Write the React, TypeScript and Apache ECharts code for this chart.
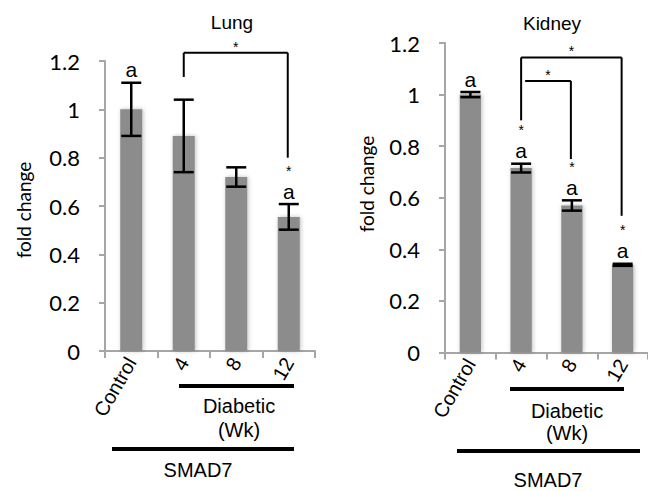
import React, { useEffect, useRef } from "react";
import * as echarts from "echarts";

const categories = ["Control", "4", "8", "12"];
const yTicks = [0, 0.2, 0.4, 0.6, 0.8, 1, 1.2];

const lungValues = [1.0, 0.89, 0.72, 0.555];
const lungErrors = [0.11, 0.15, 0.04, 0.053];
const lungLetters = ["a", "", "", "a"];
const lungStars = [false, false, false, true];
// [fromCat, toCat, topValue, leftBottomValue (null = none), rightBottomValue]
const lungBrackets = [[1, 3, 1.234, 1.134, 0.8]];

const kidneyValues = [1.0, 0.715, 0.57, 0.34];
const kidneyErrors = [0.01, 0.017, 0.02, 0.004];
const kidneyLetters = ["a", "a", "a", "a"];
const kidneyStars = [false, true, true, true];
const kidneyBrackets = [
  [1, 3, 1.144, 0.9, 0.53],
  [1, 2, 1.053, null, 0.75],
];

const GRAY_AXIS = "#a6a6a6";
const BAR = "#8c8c8c";
const NUM_FONT = "Lato";
const TXT_FONT = "Liberation Sans, Arial, sans-serif";

function errorSeries(idx: number, values: number[], errors: number[]) {
  return {
    type: "custom",
    xAxisIndex: idx,
    yAxisIndex: idx,
    z: 5,
    data: values.map((v, i) => [i, v, errors[i]]),
    renderItem: (_p: any, api: any) => {
      const x = api.value(0);
      const v = api.value(1);
      const e = api.value(2);
      const t = api.coord([x, v + e]);
      const b = api.coord([x, v - e]);
      const hw = 10;
      const st = { stroke: "#000", lineWidth: 2.5 };
      return {
        type: "group",
        children: [
          { type: "line", shape: { x1: t[0], y1: t[1], x2: b[0], y2: b[1] }, style: st },
          { type: "line", shape: { x1: t[0] - hw, y1: t[1], x2: t[0] + hw, y2: t[1] }, style: st },
          { type: "line", shape: { x1: b[0] - hw, y1: b[1], x2: b[0] + hw, y2: b[1] }, style: st },
        ],
      };
    },
  };
}

function letterSeries(idx: number, values: number[], errors: number[], letters: string[], stars: boolean[]) {
  return {
    type: "custom",
    xAxisIndex: idx,
    yAxisIndex: idx,
    z: 6,
    data: values.map((v, i) => [i, v + errors[i], i]),
    renderItem: (_p: any, api: any) => {
      const i = api.value(2);
      const p = api.coord([api.value(0), api.value(1)]);
      const children: any[] = [];
      if (letters[i]) {
        children.push({
          type: "text",
          x: p[0],
          y: p[1] - 13,
          style: {
            text: letters[i],
            fontSize: 21,
            fontFamily: TXT_FONT,
            fill: "#000",
            align: "center",
            verticalAlign: "middle",
          },
        });
      }
      if (stars[i]) {
        children.push({
          type: "text",
          x: p[0],
          y: p[1] - 33.5,
          style: {
            text: "*",
            fontSize: 14,
            fontFamily: TXT_FONT,
            fill: "#000",
            align: "center",
            verticalAlign: "middle",
          },
        });
      }
      return { type: "group", children };
    },
  };
}

function bracketSeries(idx: number, brackets: any[]) {
  return {
    type: "custom",
    xAxisIndex: idx,
    yAxisIndex: idx,
    z: 6,
    clip: false,
    data: brackets.map((b, i) => [b[0], b[1], b[2], b[3] === null ? -1 : b[3], b[4], i]),
    renderItem: (_p: any, api: any) => {
      const c1 = api.value(0);
      const c2 = api.value(1);
      const top = api.value(2);
      const lb = api.value(3);
      const rb = api.value(4);
      const hasLeft = lb >= 0;
      const dx = hasLeft ? 0 : 4;
      const pL = api.coord([c1, top]);
      const pR = api.coord([c2, top]);
      const x1 = pL[0] + dx;
      const x2 = pR[0] - 1;
      const yT = pL[1];
      const st = { stroke: "#000", lineWidth: 2 };
      const children: any[] = [
        { type: "line", shape: { x1, y1: yT, x2, y2: yT }, style: st },
        { type: "line", shape: { x1: x2, y1: yT, x2, y2: api.coord([c2, rb])[1] }, style: st },
        {
          type: "text",
          x: (x1 + x2) / 2,
          y: yT - 6,
          style: {
            text: "*",
            fontSize: 14,
            fontFamily: TXT_FONT,
            fill: "#000",
            align: "center",
            verticalAlign: "middle",
          },
        },
      ];
      if (hasLeft) {
        children.push({ type: "line", shape: { x1, y1: yT, x2: x1, y2: api.coord([c1, lb])[1] }, style: st });
      }
      return { type: "group", children };
    },
  };
}

export default function App() {
  const ref = useRef<HTMLDivElement>(null);
  useEffect(() => {
    document.body.style.margin = "0";
    const chart = echarts.init(ref.current!, null, { renderer: "svg" });
    const yAxisBase = () => ({
      type: "value",
      min: yTicks[0],
      max: yTicks[yTicks.length - 1],
      interval: 0.2,
      splitLine: { show: false },
      axisLine: { show: true, lineStyle: { color: GRAY_AXIS, width: 2 } },
      axisTick: { show: true, length: 6, lineStyle: { color: GRAY_AXIS, width: 2 } },
      axisLabel: {
        margin: 25,
        fontSize: 22,
        fontFamily: NUM_FONT,
        color: "#000",
        formatter: (v: number) => String(Math.round(v * 10) / 10),
      },
    });
    const xAxisBase = () => ({
      type: "category",
      data: categories,
      axisLine: { show: true, lineStyle: { color: GRAY_AXIS, width: 2 } },
      axisTick: { show: true, length: 7, lineStyle: { color: GRAY_AXIS, width: 2 } },
      axisLabel: {
        rotate: 60,
        margin: 8,
        fontSize: 20,
        fontFamily: TXT_FONT,
        color: "#000",
      },
    });
    const barStyle = {
      color: BAR,
      shadowBlur: 4,
      shadowColor: "rgba(0,0,0,0.25)",
      shadowOffsetX: 1,
    };
    const lineStyle = { stroke: "#000", lineWidth: 4 };
    const txt = (x: number, y: number, text: string, size = 20, font = TXT_FONT, rotation = 0) => ({
      type: "text",
      x,
      y,
      rotation,
      style: { text, fontSize: size, fontFamily: font, fill: "#000", align: "center", verticalAlign: "middle" },
    });
    chart.setOption({
      animation: false,
      grid: [
        { left: 105, top: 61, width: 210, height: 290 },
        { left: 445, top: 43, width: 206, height: 309.5 },
      ],
      xAxis: [
        { ...xAxisBase(), gridIndex: 0 },
        { ...xAxisBase(), gridIndex: 1 },
      ],
      yAxis: [
        { ...yAxisBase(), gridIndex: 0 },
        { ...yAxisBase(), gridIndex: 1 },
      ],
      series: [
        { type: "bar", xAxisIndex: 0, yAxisIndex: 0, data: lungValues, barWidth: "42%", itemStyle: barStyle },
        { type: "bar", xAxisIndex: 1, yAxisIndex: 1, data: kidneyValues, barWidth: "42%", itemStyle: barStyle },
        errorSeries(0, lungValues, lungErrors),
        errorSeries(1, kidneyValues, kidneyErrors),
        letterSeries(0, lungValues, lungErrors, lungLetters, lungStars),
        letterSeries(1, kidneyValues, kidneyErrors, kidneyLetters, kidneyStars),
        bracketSeries(0, lungBrackets),
        bracketSeries(1, kidneyBrackets),
      ],
      graphic: [
        txt(232, 22, "Lung", 19),
        txt(552, 23, "Kidney", 19),
        txt(23, 210, "fold change", 19, NUM_FONT, Math.PI / 2),
        txt(366, 184, "fold change", 19, NUM_FONT, Math.PI / 2),
        { type: "line", shape: { x1: 179, y1: 386, x2: 294, y2: 386 }, style: lineStyle },
        { type: "line", shape: { x1: 112, y1: 449, x2: 294, y2: 449 }, style: lineStyle },
        txt(239, 406, "Diabetic", 20),
        txt(239, 430, "(Wk)", 20),
        txt(198, 470, "SMAD7", 20),
        { type: "line", shape: { x1: 510, y1: 389, x2: 624, y2: 389 }, style: lineStyle },
        { type: "line", shape: { x1: 457, y1: 451, x2: 640, y2: 451 }, style: lineStyle },
        txt(567, 411, "Diabetic", 20),
        txt(567, 433, "(Wk)", 20),
        txt(548, 480, "SMAD7", 20),
      ],
    });
    return () => chart.dispose();
  }, []);
  return <div ref={ref} style={{ width: 648, height: 491 }} />;
}
